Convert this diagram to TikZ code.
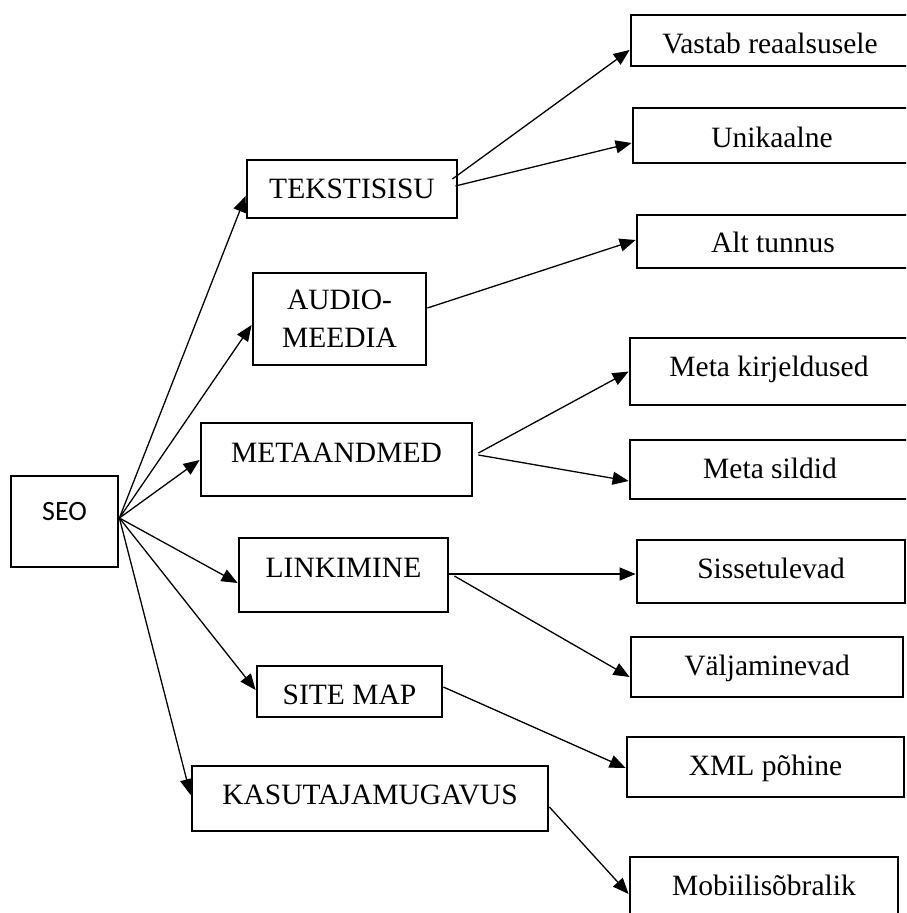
\documentclass[tikz,border=0pt]{standalone}
\usepackage{fontspec}
\setmainfont{Liberation Serif}
\newfontfamily\seofont{Carlito}
\usetikzlibrary{arrows.meta,calc}

\tikzset{
  box/.style={draw, line width=2.8pt, inner sep=0pt,
    font=\fontsize{29.5}{38}\selectfont},
  arr/.style={-{Triangle[length=16pt,width=13pt]}, line width=1.3pt},
}

\begin{document}
\begin{tikzpicture}[x=1pt,y=-1pt]
\useasboundingbox (0,0) rectangle (906,913);
\clip (0,0) rectangle (906,913);

% root
\node[box, minimum width=107pt, minimum height=91pt, text height=44pt, text depth=47pt,
  font=\seofont\fontsize{28}{34}\selectfont] (seo) at (64.5,521.5) {SEO};

% first level
\node[box, minimum width=210pt, minimum height=58pt, text height=38pt, text depth=20pt]
  (tekst) at (352,189) {TEKSTISISU};
\node[box, minimum width=173pt, minimum height=92pt, align=center]
  (audio) at (339.5,319) {AUDIO-\\MEEDIA};
\node[box, minimum width=271pt, minimum height=73pt, text height=39pt, text depth=34pt]
  (meta) at (336.5,459.5) {METAANDMED};
\node[box, minimum width=209pt, minimum height=74pt, text height=39pt, text depth=35pt]
  (link) at (343.5,575) {LINKIMINE};
\node[box, minimum width=185pt, minimum height=51pt, text height=38pt, text depth=13pt]
  (site) at (349.5,691.5) {SITE MAP};
\node[box, minimum width=356pt, minimum height=65pt, text height=38pt, text depth=27pt]
  (kasu) at (370,798.5) {KASUTAJAMUGAVUS};

% second level
\node[box, minimum width=278pt, minimum height=51pt, text height=38pt, text depth=13pt]
  (vastab) at (770,40.5) {Vastab reaalsusele};
\node[box, minimum width=278pt, minimum height=55pt, text height=39pt, text depth=16pt]
  (unik) at (772,135.5) {Unikaalne};
\node[box, minimum width=272pt, minimum height=53pt, text height=37pt, text depth=16pt]
  (alt) at (773,241.5) {Alt tunnus};
\node[box, minimum width=278pt, minimum height=67pt, text height=38pt, text depth=29pt]
  (mkirj) at (769,371.5) {Meta kirjeldused};
\node[box, minimum width=280pt, minimum height=59pt, text height=38pt, text depth=21pt]
  (msild) at (770,469.5) {Meta sildid};
\node[box, minimum width=268pt, minimum height=63pt, text height=38pt, text depth=25pt]
  (siss) at (771,571.5) {Sissetulevad};
\node[box, minimum width=272pt, minimum height=60pt, text height=38pt, text depth=22pt]
  (valj) at (767,667) {Väljaminevad};
\node[box, minimum width=277pt, minimum height=60pt, text height=38pt, text depth=22pt]
  (xml) at (765.5,767) {XML põhine};
\node[box, minimum width=268pt, minimum height=68pt, text height=38pt, text depth=30pt]
  (mobi) at (764,891) {Mobiilisõbralik};

% connectors from the root
\draw[arr] ($(seo.east)+(0,-3.5)$) -- ($(tekst.west)+(0,7)$);
\draw[arr] ($(seo.east)+(0,-3.5)$) -- ($(audio.west)+(0,6)$);
\draw[arr] ($(seo.east)+(0,-3.5)$) -- ($(meta.west)+(0,0.5)$);
\draw[arr] ($(seo.east)+(0,-3.5)$) -- ($(link.west)+(0,8)$);
\draw[arr] ($(seo.east)+(0,-3.5)$) -- ($(site.west)+(0,-1.5)$);
\draw[arr] ($(seo.east)+(0,-3.5)$) -- ($(kasu.west)+(0,-3.5)$);

% connectors to the second level
\draw[arr] ($(tekst.east)+(-6,-10)$) -- ($(vastab.west)+(0,9.5)$);
\draw[arr] ($(tekst.east)+(-3,-3)$) -- ($(unik.west)+(0,7.5)$);
\draw[arr] ($(audio.east)+(0,-11)$) -- ($(alt.west)+(0,-1.5)$);
\draw[arr] ($(meta.east)+(5,-6.5)$) -- ($(mkirj.west)+(0,0)$);
\draw[arr] ($(meta.east)+(5,-4.5)$) -- ($(msild.west)+(0,11.5)$);
\draw[arr] ($(link.east)+(-2,-1)$) -- ($(siss.west)+(0,2.5)$);
\draw[arr] ($(link.east)+(5,1)$) -- ($(valj.west)+(0,10)$);
\draw[arr] ($(site.east)+(0,-4.5)$) -- ($(xml.west)+(0,1)$);
\draw[arr] ($(kasu.east)+(0,8.5)$) -- ($(mobi.west)+(0,3)$);
\end{tikzpicture}
\end{document}
